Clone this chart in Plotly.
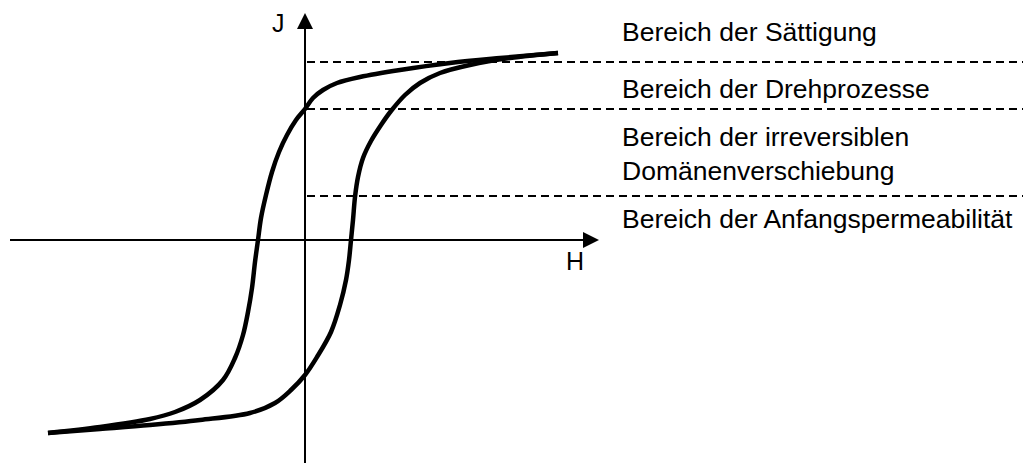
import plotly.graph_objects as go

# Coordinates: H = horizontal field, J = polarisation (schematic units, origin at axes crossing)
# Descending branch (from positive saturation to negative saturation)
H_down = [253, 195, 145, 95, 55, 32, 18, 8, 0, -9, -18, -26, -33, -39, -44, -47, -50, -53, -57, -62, -70, -82, -105, -130, -155, -205, -257]
J_down = [187, 182, 177, 170, 163, 157, 150, 142, 131, 120, 105, 88, 68, 45, 22, 0, -22, -48, -72, -95, -118, -140, -160, -172, -179, -187, -193]

# Ascending branch (from negative saturation back to positive saturation)
H_up = [-257, -205, -155, -105, -55, -30, -14, 0, 12, 26, 35, 41, 44, 46, 48, 50, 53, 58, 66, 76, 86, 100, 115, 135, 165, 205, 253]
J_up = [-193, -189, -185, -180, -173, -163, -150, -135, -117, -92, -65, -40, -20, 0, 20, 43, 63, 82, 99, 115, 129, 145, 157, 167, 175, 182, 187]

# Region boundaries (J values of dashed lines) and labels
boundary_J = [178, 131, 44]
region_labels = ["Bereich der Sättigung", "Bereich der Drehprozesse",
                 "Bereich der irreversiblen<br>Domänenverschiebung",
                 "Bereich der Anfangspermeabilität"]
label_J = [208, 151, 86, 21]

# page body has an 8px margin, so the ranges are offset to keep the origin at (305, 240)
X0, X1 = -297, 734
Y0, Y1 = -231, 232

FONT = "Arial, Liberation Sans"

fig = go.Figure()
for hx, jy in ((H_down, J_down), (H_up, J_up)):
    fig.add_trace(go.Scatter(x=hx, y=jy, mode="lines",
                             line=dict(color="black", width=4.5, shape="spline", smoothing=1.0),
                             hoverinfo="skip", showlegend=False))

shapes = []
# axes
shapes.append(dict(type="line", x0=-295, x1=285, y0=0, y1=0, line=dict(color="black", width=2)))
shapes.append(dict(type="line", x0=0, x1=0, y0=-232, y1=212, line=dict(color="black", width=2)))
# arrowheads
shapes.append(dict(type="path", path="M 294 0 L 278 -8 L 278 8 Z", fillcolor="black", line=dict(width=0)))
shapes.append(dict(type="path", path="M 0 227 L -8 211 L 8 211 Z", fillcolor="black", line=dict(width=0)))
# dashed region boundaries
for jb in boundary_J:
    shapes.append(dict(type="line", x0=2, x1=X1, y0=jb, y1=jb,
                       line=dict(color="black", width=1.8, dash="8px,5px")))

annotations = [
    dict(x=-27, y=217, text="J", showarrow=False, xanchor="center", yanchor="middle",
         font=dict(size=25, color="black", family=FONT)),
    dict(x=270, y=-21, text="H", showarrow=False, xanchor="center", yanchor="middle",
         font=dict(size=25, color="black", family=FONT)),
]
for txt, yj in zip(region_labels, label_J):
    annotations.append(dict(x=315, y=yj, text=txt, showarrow=False, xanchor="left",
                            yanchor="middle", align="left",
                            font=dict(size=26.5, color="black", family=FONT)))

fig.update_layout(
    width=1031, height=463,
    margin=dict(l=0, r=0, t=0, b=0),
    paper_bgcolor="white", plot_bgcolor="white",
    xaxis=dict(range=[X0, X1], visible=False, fixedrange=True),
    yaxis=dict(range=[Y0, Y1], visible=False, fixedrange=True),
    shapes=shapes, annotations=annotations, showlegend=False,
)
fig.write_html("out.html")
